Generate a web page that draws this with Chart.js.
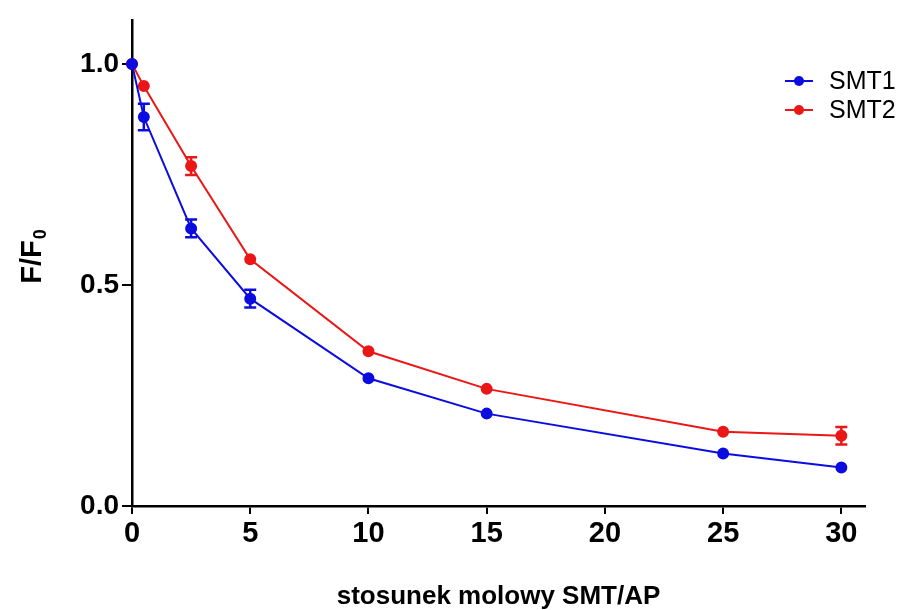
<!DOCTYPE html>
<html>
<head>
<meta charset="utf-8">
<script src="https://cdn.jsdelivr.net/npm/chart.js@4.4.1/dist/chart.umd.min.js"></script>
<style>
  html, body { margin: 0; padding: 0; background: #fff; }
  #chart-quench { display: block; }
</style>
</head>
<body>
<canvas id="chart-quench" width="903" height="610"></canvas>
<script>
// molar ratio SMT/AP
const ratios = [0, 0.5, 2.5, 5, 10, 15, 25, 30];
const smt1 = [1.0, 0.88, 0.628, 0.469, 0.289, 0.209, 0.119, 0.087];
const smt1Err = [0, 0.03, 0.02, 0.02, 0, 0, 0, 0];
const smt2 = [1.0, 0.95, 0.769, 0.558, 0.35, 0.265, 0.168, 0.159];
const smt2Err = [0, 0, 0.02, 0, 0, 0, 0, 0.02];
const xTicks = [0, 5, 10, 15, 20, 25, 30];
const yTicks = [0, 0.5, 1.0];

const FONT = "'Liberation Sans', Arial, sans-serif";
const BLUE = 'rgb(12, 12, 225)';
const RED = 'rgb(235, 22, 22)';

const toPoints = (ys) => ys.map((y, i) => ({ x: ratios[i], y: y }));

// error bars (mean +/- SD)
const errorBars = {
    id: 'errorBars',
    afterDatasetsDraw(chart) {
        const ctx = chart.ctx;
        const xs = chart.scales.x, ys = chart.scales.y;
        chart.data.datasets.forEach((ds) => {
            ctx.save();
            ctx.strokeStyle = ds.borderColor;
            ctx.lineWidth = 2.5;
            ds.errors.forEach((e, i) => {
                if (!e) return;
                const px = xs.getPixelForValue(ratios[i]);
                const top = ys.getPixelForValue(ds.data[i].y + e);
                const bot = ys.getPixelForValue(ds.data[i].y - e);
                ctx.beginPath();
                ctx.moveTo(px, top); ctx.lineTo(px, bot);
                ctx.moveTo(px - 6, top); ctx.lineTo(px + 6, top);
                ctx.moveTo(px - 6, bot); ctx.lineTo(px + 6, bot);
                ctx.stroke();
            });
            ctx.restore();
        });
    }
};

// y title with subscript, and the line+dot legend
const extras = {
    id: 'extras',
    afterDraw(chart) {
        const ctx = chart.ctx;
        ctx.save();
        ctx.fillStyle = '#000';
        ctx.translate(33, 257);
        ctx.rotate(-Math.PI / 2);
        ctx.textBaseline = 'middle';
        const main = 'F/F', sub = '0';
        ctx.font = 'bold 29px ' + FONT;
        const w = ctx.measureText(main).width;
        ctx.font = 'bold 18px ' + FONT;
        const ws = ctx.measureText(sub).width;
        const start = -(w + ws) / 2;
        ctx.font = 'bold 29px ' + FONT;
        ctx.fillText(main, start, 0);
        ctx.font = 'bold 18px ' + FONT;
        ctx.fillText(sub, start + w + 1, 8);
        ctx.restore();

        ctx.save();
        chart.data.datasets.forEach((ds, i) => {
            const y = 81 + i * 29;
            ctx.strokeStyle = ds.borderColor;
            ctx.fillStyle = ds.borderColor;
            ctx.lineWidth = 2;
            ctx.beginPath();
            ctx.moveTo(785, y); ctx.lineTo(813, y);
            ctx.stroke();
            ctx.beginPath();
            ctx.arc(799, y, 5, 0, Math.PI * 2);
            ctx.fill();
            ctx.fillStyle = '#000';
            ctx.font = '25px ' + FONT;
            ctx.textBaseline = 'middle';
            ctx.fillText(ds.label, 829, y + 1);
        });
        ctx.restore();
    }
};

const chartQuenchGet = document.getElementById('chart-quench');
const chartQuench = new Chart(chartQuenchGet, {
    type: 'line',
    data: {
        datasets: [{
            label: 'SMT1',
            data: toPoints(smt1),
            errors: smt1Err,
            borderColor: BLUE,
            backgroundColor: BLUE,
            borderWidth: 2,
            pointRadius: 5,
            pointHoverRadius: 5,
            tension: 0,
            clip: false
        }, {
            label: 'SMT2',
            data: toPoints(smt2),
            errors: smt2Err,
            borderColor: RED,
            backgroundColor: RED,
            borderWidth: 2,
            pointRadius: 5,
            pointHoverRadius: 5,
            tension: 0,
            clip: false
        }]
    },
    options: {
        responsive: false,
        animation: false,
        events: [],
        layout: { padding: { left: 0, right: 38, top: 14, bottom: 0 } },
        plugins: {
            legend: { display: false },
            tooltip: { enabled: false }
        },
        scales: {
            x: {
                type: 'linear',
                min: 0,
                max: 31,
                afterFit: (s) => { s.height = 104; },
                afterBuildTicks: (s) => { s.ticks = xTicks.map(v => ({ value: v })); },
                border: { color: '#000', width: 2.5 },
                grid: { drawOnChartArea: false, color: '#000', lineWidth: 2, tickLength: 8 },
                ticks: {
                    color: '#000',
                    padding: 3,
                    maxRotation: 0,
                    font: { family: FONT, size: 29, weight: 'bold' }
                },
                title: {
                    display: true,
                    text: 'stosunek molowy SMT/AP',
                    color: '#000',
                    padding: { top: 0, bottom: -2 },
                    font: { family: FONT, size: 26, weight: 'bold' }
                }
            },
            y: {
                min: 0,
                max: 1.1,
                afterFit: (s) => { s.width = 132; },
                afterBuildTicks: (s) => { s.ticks = yTicks.map(v => ({ value: v })); },
                border: { color: '#000', width: 2.5 },
                grid: { drawOnChartArea: false, color: '#000', lineWidth: 2, tickLength: 10 },
                ticks: {
                    color: '#000',
                    padding: 3,
                    font: { family: FONT, size: 28, weight: 'bold' },
                    callback: (v) => Number(v).toFixed(1)
                }
            }
        }
    },
    plugins: [errorBars, extras]
});
</script>
</body>
</html>
